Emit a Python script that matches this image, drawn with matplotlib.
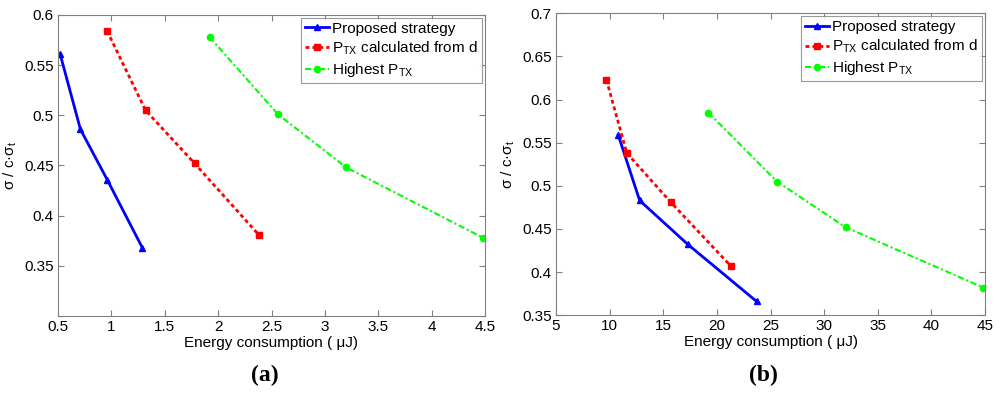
import numpy as np
import matplotlib
matplotlib.use("Agg")
import matplotlib.pyplot as plt

plt.rcParams['font.family'] = ['Liberation Sans', 'DejaVu Sans']
plt.rcParams['mathtext.fontset'] = 'custom'
plt.rcParams['mathtext.rm'] = 'Liberation Sans'
plt.rcParams['mathtext.it'] = 'Liberation Sans'

# panel (a)
a_prop_x = [0.52, 0.71, 0.96, 1.29]
a_prop_y = [0.561, 0.486, 0.436, 0.368]
a_calc_x = [0.96, 1.32, 1.78, 2.38]
a_calc_y = [0.584, 0.505, 0.452, 0.381]
a_high_x = [1.92, 2.56, 3.20, 4.48]
a_high_y = [0.578, 0.501, 0.448, 0.378]

# panel (b)
b_prop_x = [10.8, 12.8, 17.3, 23.7]
b_prop_y = [0.559, 0.483, 0.432, 0.366]
b_calc_x = [9.7, 11.6, 15.7, 21.3]
b_calc_y = [0.623, 0.538, 0.481, 0.407]
b_high_x = [19.2, 25.6, 32.0, 44.85]
b_high_y = [0.585, 0.505, 0.452, 0.382]

labels = ['Proposed strategy',
          r'P$_{\mathregular{TX}}$ calculated from d',
          r'Highest P$_{\mathregular{TX}}$']

fig = plt.figure(figsize=(10, 3.93), dpi=100)
ax1 = fig.add_axes([0.058, 0.196, 0.427, 0.766])
ax2 = fig.add_axes([0.556, 0.198, 0.429, 0.768])


def draw(ax, px, py, cx, cy, hx, hy):
    ax.plot(px, py, color='blue', lw=2, marker='^', ms=5, label=labels[0])
    ax.plot(cx, cy, color='red', lw=2, ls=(0, (1.4, 1.1)), marker='s', ms=4.5,
            label=labels[1])
    ax.plot(hx, hy, color='#00ff00', lw=1.5, ls=(0, (3, 1.3, 1, 1.3)), marker='o',
            ms=4.5, label=labels[2])
    for s in ax.spines.values():
        s.set_color('#808080')
        s.set_linewidth(0.8)
    ax.tick_params(direction='in', top=True, right=True, labelsize=11,
                   color='#808080', length=4, pad=3)
    ax.set_xlabel('Energy consumption ( \u03bcJ)', fontsize=11, labelpad=1)
    ax.set_ylabel('\u03c3 / c\u00b7\u03c3$_{\\mathregular{t}}$', fontsize=11, labelpad=4)
    leg = ax.legend(loc='upper right', fontsize=11, handlelength=1.6,
                    handletextpad=0.2, borderpad=0.25, labelspacing=0.25,
                    fancybox=False, borderaxespad=0.2)
    leg.get_frame().set_edgecolor('#808080')
    leg.get_frame().set_linewidth(0.8)


draw(ax1, a_prop_x, a_prop_y, a_calc_x, a_calc_y, a_high_x, a_high_y)
ax1.set_xlim(0.5, 4.5)
ax1.set_ylim(0.3, 0.6)
ax1.set_xticks(np.arange(0.5, 4.51, 0.5))
ax1.set_xticklabels(['0.5', '1', '1.5', '2', '2.5', '3', '3.5', '4', '4.5'])
ax1.set_yticks([0.3, 0.35, 0.4, 0.45, 0.5, 0.55, 0.6])
ax1.set_yticklabels(['', '0.35', '0.4', '0.45', '0.5', '0.55', '0.6'])

draw(ax2, b_prop_x, b_prop_y, b_calc_x, b_calc_y, b_high_x, b_high_y)
ax2.set_xlim(5, 45)
ax2.set_ylim(0.35, 0.7)
ax2.set_xticks(np.arange(5, 46, 5))
ax2.set_yticks([0.35, 0.4, 0.45, 0.5, 0.55, 0.6, 0.65, 0.7])
ax2.set_yticklabels(['0.35', '0.4', '0.45', '0.5', '0.55', '0.6', '0.65', '0.7'])

fig.text(0.265, 0.03, '(a)', ha='center', fontsize=17, fontweight='bold',
         family='Liberation Serif')
fig.text(0.763, 0.03, '(b)', ha='center', fontsize=17, fontweight='bold',
         family='Liberation Serif')

fig.savefig('out.png', dpi=100)
